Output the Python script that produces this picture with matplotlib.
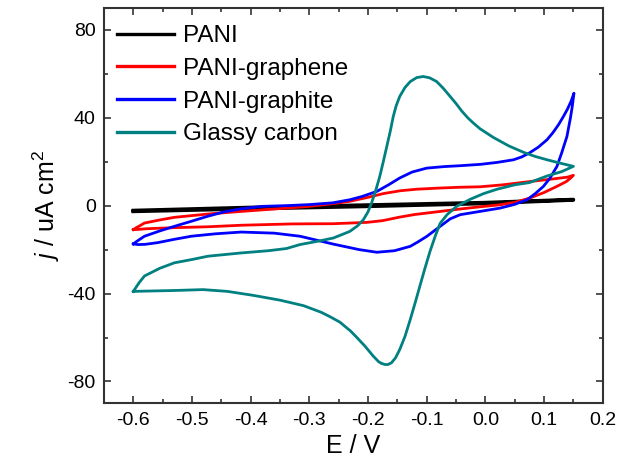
import matplotlib
matplotlib.use("Agg")
import matplotlib.pyplot as plt
from matplotlib.ticker import MultipleLocator

plt.rcParams['font.family'] = ['Liberation Sans', 'DejaVu Sans']
plt.rcParams['mathtext.fontset'] = 'custom'
plt.rcParams['mathtext.rm'] = 'Liberation Sans'
plt.rcParams['mathtext.it'] = 'Liberation Sans:italic'

# ---- data (E in V, j in uA cm^-2); each loop: forward then reverse scan ----
pani_E = [-0.6, -0.4, -0.2, 0.0, 0.15, 0.15, 0.0, -0.2, -0.4, -0.6]
pani_j = [-2.2, -0.8, 0.3, 1.4, 2.8, 2.6, 1.0, -0.3, -1.4, -2.6]

graphene_E = [-0.600, -0.595, -0.590, -0.581, -0.555, -0.530, -0.473, -0.416, -0.339, -0.300,
              -0.260, -0.231, -0.200, -0.174, -0.145, -0.117, -0.080, -0.043, -0.009, 0.030,
              0.076, 0.116, 0.140, 0.150,
              0.145, 0.138, 0.122, 0.100, 0.076, 0.050, 0.025, -0.009, -0.043, -0.089,
              -0.120, -0.146, -0.175, -0.202, -0.259, -0.330, -0.416, -0.473, -0.530, -0.578,
              -0.592, -0.600]
graphene_j = [-10.9, -10.0, -9.3, -7.9, -6.5, -5.3, -3.8, -2.6, -1.1, -0.3,
              0.9, 2.0, 3.8, 5.5, 6.8, 7.5, 8.0, 8.4, 8.6, 9.5,
              11.0, 12.2, 13.0, 13.8,
              12.5, 11.0, 8.8, 6.0, 3.5, 1.5, 0.4, -0.5, -1.5, -3.0,
              -4.0, -5.2, -6.8, -7.6, -8.2, -8.3, -8.9, -9.6, -10.0, -10.5,
              -10.8, -10.9]

graphite_E = [-0.600, -0.595, -0.590, -0.581, -0.555, -0.530, -0.500, -0.473, -0.445, -0.416,
              -0.380, -0.340, -0.300, -0.260, -0.231, -0.210, -0.185, -0.165, -0.146, -0.125,
              -0.100, -0.070, -0.043, -0.009, 0.020, 0.048, 0.062, 0.075, 0.090, 0.105,
              0.115, 0.125, 0.133, 0.140, 0.146, 0.151,
              0.148, 0.145, 0.139, 0.130, 0.122, 0.110, 0.099, 0.085, 0.071, 0.050,
              0.025, -0.009, -0.043, -0.060, -0.077, -0.100, -0.115, -0.128, -0.155, -0.185,
              -0.215, -0.259, -0.316, -0.360, -0.416, -0.460, -0.501, -0.530, -0.558, -0.580,
              -0.592, -0.600]
graphite_j = [-17.4, -16.4, -15.5, -13.9, -11.5, -9.4, -7.0, -4.8, -2.8, -1.4,
              -0.3, 0.0, 0.5, 1.3, 2.7, 4.2, 6.5, 9.5, 12.6, 15.3,
              17.1, 17.8, 18.2, 18.8, 19.7, 20.9, 22.2, 24.0, 26.6, 30.0,
              33.2, 37.0, 40.6, 44.0, 47.5, 51.2,
              45.0, 40.0, 31.5, 24.0, 17.9, 12.5, 8.8, 5.5, 2.7, 0.6,
              -1.1, -2.6, -4.1, -6.0, -9.4, -14.0, -16.5, -18.5, -20.5, -21.2,
              -20.0, -17.5, -13.9, -12.5, -12.0, -12.8, -13.9, -15.3, -16.8, -17.6,
              -17.7, -17.4]

glassy_E = [-0.600, -0.595, -0.590, -0.581, -0.555, -0.530, -0.500, -0.473, -0.416, -0.370,
            -0.339, -0.316, -0.282, -0.259, -0.231, -0.218, -0.208, -0.200, -0.194, -0.187,
            -0.180, -0.174, -0.168, -0.162, -0.157, -0.152, -0.146, -0.137, -0.128, -0.117,
            -0.106, -0.095, -0.083, -0.072, -0.060, -0.050, -0.040, -0.030, -0.020, -0.009,
            0.014, 0.040, 0.065, 0.085, 0.105, 0.130, 0.150,
            0.130, 0.105, 0.075, 0.050, 0.020, -0.003, -0.025, -0.049, -0.065, -0.077,
            -0.085, -0.094, -0.103, -0.111, -0.120, -0.128, -0.137, -0.146, -0.153, -0.160,
            -0.166, -0.171, -0.177, -0.182, -0.191, -0.205, -0.219, -0.230, -0.248, -0.265,
            -0.280, -0.310, -0.350, -0.396, -0.440, -0.481, -0.530, -0.600]
glassy_j = [-39.0, -37.0, -35.0, -32.0, -28.5, -26.0, -24.5, -23.0, -21.5, -20.5,
            -19.5, -17.7, -16.0, -14.7, -11.7, -9.2, -6.4, -2.8, 1.2, 6.8,
            13.3, 20.0, 27.0, 34.0, 40.6, 45.5, 49.7, 53.8, 56.5, 58.3,
            58.8, 58.2, 56.5, 53.5, 49.7, 46.5, 43.0, 40.0, 37.5, 35.0,
            31.0, 27.2, 24.3, 22.4, 20.9, 19.2, 17.9,
            15.5, 13.5, 10.5, 9.5, 7.5, 5.5, 3.0, -0.3, -4.0, -8.0,
            -13.5, -20.5, -28.5, -36.0, -44.5, -51.8, -59.5, -65.5, -69.2, -71.5,
            -72.3, -72.3, -71.8, -71.0, -68.5, -64.0, -60.0, -57.0, -53.0, -50.5,
            -48.5, -45.5, -43.0, -40.8, -39.0, -38.2, -38.6, -39.0]

series = [
    ("PANI", pani_E, pani_j, "#000000", 2.6),
    ("PANI-graphene", graphene_E, graphene_j, "#ff0000", 2.0),
    ("PANI-graphite", graphite_E, graphite_j, "#0000ff", 2.0),
    ("Glassy carbon", glassy_E, glassy_j, "#008080", 2.0),
]

xticks = [-0.6, -0.5, -0.4, -0.3, -0.2, -0.1, 0.0, 0.1, 0.2]
yticks = [-80, -40, 0, 40, 80]

fig = plt.figure(figsize=(6.19, 4.68), dpi=100)
ax = fig.add_axes([0.168, 0.138, 0.8057, 0.845])

for name, E, j, c, lw in series:
    ax.plot(E, j, color=c, lw=lw, label=name, solid_joinstyle='round')

ax.set_xlim(-0.65, 0.2)
ax.set_ylim(-90, 90)
ax.set_xticks(xticks)
ax.set_xticklabels([f"{t:.1f}" for t in xticks])
ax.set_yticks(yticks)
ax.set_yticklabels([str(t) for t in yticks])
ax.xaxis.set_minor_locator(MultipleLocator(0.05))
ax.yaxis.set_minor_locator(MultipleLocator(20))
ax.tick_params(which='both', direction='in', top=True, right=True,
               labelsize=14, color='#333333', width=1.2, pad=6)
ax.tick_params(which='major', length=5)
ax.tick_params(which='minor', length=3)
for s in ax.spines.values():
    s.set_linewidth(1.5)
    s.set_color('#333333')

ax.set_xlabel("E / V", fontsize=18, labelpad=4)
ax.set_ylabel(r"$\mathit{j}$ / uA cm$^{2}$", fontsize=18, labelpad=4)

leg = ax.legend(loc='upper left', bbox_to_anchor=(0.0, 0.99), frameon=False, fontsize=17.5,
                handlelength=2.35, handletextpad=0.37, labelspacing=0.44, borderpad=0.3,
                borderaxespad=0.25)
for h in leg.get_lines():
    h.set_linewidth(2.4)

fig.savefig("out.png", dpi=100)
